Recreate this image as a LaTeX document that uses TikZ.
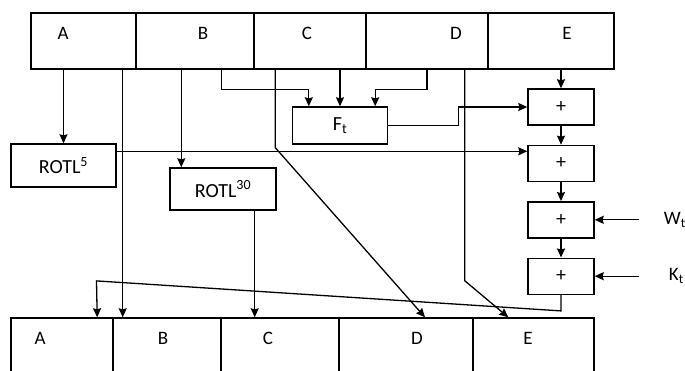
\documentclass[tikz,border=0pt]{standalone}
\usepackage{fontspec}
\setmainfont{Carlito}
\usetikzlibrary{arrows.meta,positioning,calc}

\begin{document}
\begin{tikzpicture}[x=1pt, y=-1pt,
    cell/.style={rectangle, draw, line width=1.4pt, minimum height=56pt, inner sep=0pt},
    box/.style={rectangle, draw, line width=1.4pt, minimum width=66pt, minimum height=36pt, inner sep=0pt, font=\fontsize{20}{23}\selectfont},
    lbl/.style={inner sep=0pt, font=\fontsize{19}{22}\selectfont},
    arrow/.style={->, line width=1.3pt, >={Stealth[length=9pt, width=8pt, inset=1pt]}},
    node distance=19pt]
  \useasboundingbox (0,0) rectangle (685,370);
  % input words
  \node[cell, minimum width=105pt] (tA) at (83.5,41) {};
  \node[cell, minimum width=118pt] (tB) at (195,41) {};
  \node[cell, minimum width=112pt] (tC) at (310,41) {};
  \node[cell, minimum width=122pt] (tD) at (427,41) {};
  \node[cell, minimum width=126pt] (tE) at (551,41) {};
  \node[lbl] (ltA) at (63,33) {A};
  \node[lbl] (ltB) at (203,33) {B};
  \node[lbl] (ltC) at (307,33) {C};
  \node[lbl] (ltD) at (456,33) {D};
  \node[lbl] (ltE) at (567,33) {E};
  % output words
  \node[cell, minimum width=102pt] (bA) at (62,346) {};
  \node[cell, minimum width=108pt] (bB) at (167,346) {};
  \node[cell, minimum width=118pt] (bC) at (280,346) {};
  \node[cell, minimum width=134pt] (bD) at (406,346) {};
  \node[cell, minimum width=121pt] (bE) at (533.5,346) {};
  \node[lbl] (lbA) at (40,338) {A};
  \node[lbl] (lbB) at (163,338) {B};
  \node[lbl] (lbC) at (268,338) {C};
  \node[lbl] (lbD) at (417,338) {D};
  \node[lbl] (lbE) at (528,338) {E};
  % round function and rotations
  \node[box, minimum width=95pt, minimum height=37pt] (ft) at (340,125.5) {F\textsubscript{t}};
  \node[box, minimum width=105pt, minimum height=43pt] (rotl5) at (63.5,165.5) {ROTL\textsuperscript{5}};
  \node[box, minimum width=106pt, minimum height=42pt] (rotl30) at (223,189) {ROTL\textsuperscript{30}};
  % adders
  \node[box] (plus1) at (561,107) {+};
  \node[box, below=of plus1] (plus2) {+};
  \node[box, below=of plus2] (plus3) {+};
  \node[box, below=of plus3] (plus4) {+};
  \node[lbl, right=69pt of plus3] (wt) {W\textsubscript{t}};
  \node[lbl, right=74pt of plus4] (kt) {K\textsubscript{t}};

  \draw[arrow] (rotl5 |- tA.south) -- (rotl5.north);
  \draw[arrow] ([xshift=-14pt]tA.south east) -- ([xshift=-14pt]tA.south east |- bB.north);
  \draw[arrow] ([xshift=12pt]rotl30.north west |- tB.south) -- ([xshift=12pt]rotl30.north west);
  \draw[arrow] ([xshift=-33pt]tB.south east) -- ++(0,20) -| ([xshift=17pt]ft.north west);
  \draw[arrow] (ft.north |- tC.south) -- (ft.north);
  \draw[arrow] (tD.south) -- ++(0,20) -| ([xshift=-13pt]ft.north east);
  \draw[arrow] ([xshift=22pt]tC.south west) -- ++(0,78) -- ([xshift=19pt]bD.north);
  \draw[arrow] ([xshift=-24pt]tD.south east) -- ++(0,211) -- ([xshift=36pt]bE.north west);
  \draw[arrow] (plus1.north |- tE.south) -- (plus1.north);
  \draw[arrow] (ft.east) -- ++(70,0) |- (plus1.west);
  \draw[arrow] ([yshift=-8pt]rotl5.north east) -- ([yshift=-8pt]rotl5.north east -| plus2.west);
  \draw[arrow] (plus1) -- (plus2);
  \draw[arrow] (plus2) -- (plus3);
  \draw[arrow] (plus3) -- (plus4);
  \draw[arrow] ([xshift=-25pt]wt.west) -- (plus3.east);
  \draw[arrow] ([xshift=-30pt]kt.west) -- (plus4.east);
  \draw[arrow] (plus4.south) -- ++(0,16) -- ++(-464.5,-30) -- ([xshift=-16.5pt]bA.north east);
  \draw[arrow] ([xshift=-22pt]rotl30.south east) -- ([xshift=-22pt]rotl30.south east |- bC.north);
\end{tikzpicture}
\end{document}
